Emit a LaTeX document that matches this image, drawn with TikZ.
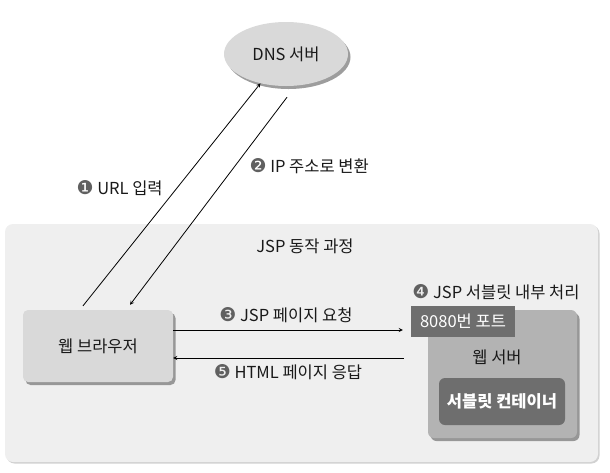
\documentclass[tikz,border=0pt]{standalone}
\usepackage{fontspec}
\setmainfont{Noto Sans CJK KR}
\newfontfamily\dingfont{DejaVu Sans}
\usetikzlibrary{shapes.geometric, shadows}
\definecolor{panelgray}{HTML}{EFEFEF}
\definecolor{boxgray}{HTML}{D9D9D9}
\definecolor{srvgray}{HTML}{B3B3B3}
\definecolor{portgray}{HTML}{6E6E6E}
\definecolor{numgray}{HTML}{606060}
\newcommand{\stepno}[1]{{\dingfont\fontsize{19}{19}\selectfont\color{numgray}#1}}
\tikzset{
    shade box/.style={drop shadow={shadow xshift=2.5pt, shadow yshift=-3pt, fill=black!55, opacity=0.7}},
    lab/.style={font=\fontsize{16.5}{19}\selectfont, text=black!90}
}

\begin{document}
\begin{tikzpicture}[x=1pt, y=-1pt, >=stealth, every node/.style={lab}]
    \useasboundingbox (0,0) rectangle (610,472);
    \fill[panelgray, rounded corners=8pt, drop shadow={shadow xshift=1.5pt, shadow yshift=-1.5pt, fill=black!30, opacity=0.6}] (5,224) rectangle (598,462);
    \node[ellipse, fill=boxgray, minimum width=124pt, minimum height=64pt, shade box] (D) at (286,54) {DNS 서버};
    \node[rounded corners=5pt, fill=boxgray, minimum width=150pt, minimum height=72pt, shade box] (B) at (98,346) {웹 브라우저};
    \node[rounded corners=6pt, fill=srvgray, minimum width=149pt, minimum height=128pt, shade box] (W) at (502.5,374) {};
    \node (S) at (497,357) {웹 서버};
    \node[fill=portgray, text=white, minimum width=104pt, minimum height=31pt] (P) at (463,321.5) {8080번 포트};
    \node[rounded corners=6pt, fill=portgray, text=white, minimum width=126pt, minimum height=47pt] (C) at (502,401.5) {\bfseries 서블릿 컨테이너};
    \node (T) at (305,246) {JSP 동작 과정};
    \node[anchor=west] (L1) at (73,188) {\stepno{❶} URL 입력};
    \node[anchor=west] (L2) at (246,166) {\stepno{❷} IP 주소로 변환};
    \node (L3) at (286,315) {\stepno{❸} JSP 페이지 요청};
    \node (L4) at (496,292) {\stepno{❹} JSP 서블릿 내부 처리};
    \node (L5) at (288,372) {\stepno{❺} HTML 페이지 응답};
    \draw[->, line width=0.8pt] ([xshift=-15pt, yshift=4pt]B.north) -- (D.229);
    \draw[->, line width=0.8pt] ([xshift=1pt, yshift=-11pt]D.south) -- ([xshift=32pt, yshift=5pt]B.north);
    \draw[->, line width=0.8pt, shorten >=8pt] ([yshift=16pt]B.east) coordinate (a3) -- (a3 -| P.west);
    \draw[<-, line width=0.8pt, shorten >=7pt] ([yshift=-12pt]B.east) coordinate (a5) -- (a5 -| P.west);
\end{tikzpicture}
\end{document}
